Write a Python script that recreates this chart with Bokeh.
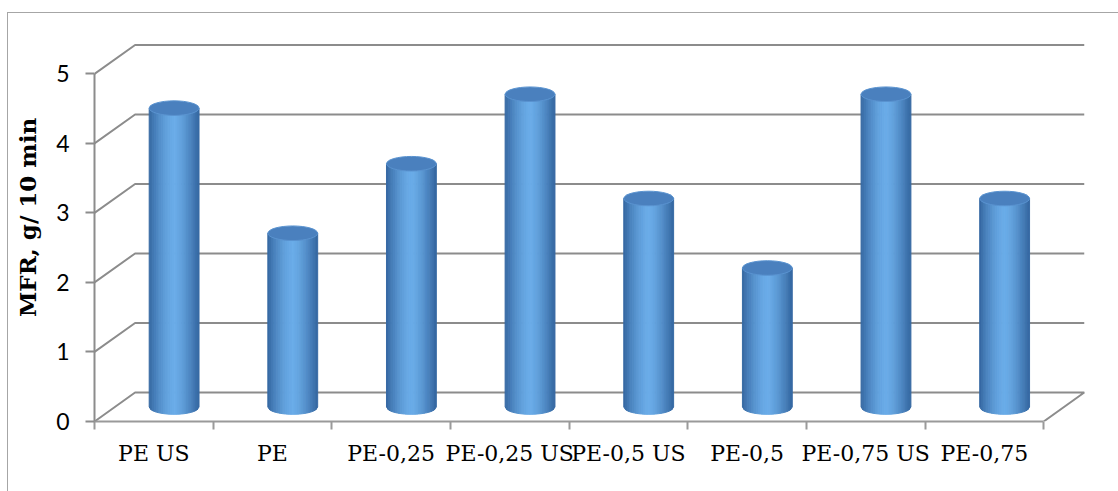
from bokeh.plotting import figure
from bokeh.models import Range1d, FixedTicker
from bokeh.embed import file_html
from bokeh.resources import INLINE
import numpy as np

# --- data -------------------------------------------------------------
categories = ["PE US", "PE", "PE-0,25", "PE-0,25 US", "PE-0,5 US", "PE-0,5", "PE-0,75 US", "PE-0,75"]
mfr = [4.3, 2.5, 3.5, 4.5, 3.0, 2.0, 4.5, 3.0]
y_ticks = [0, 1, 2, 3, 4, 5]

# --- pseudo-3D geometry (in data units) -------------------------------
DEPTH_X = 0.342      # horizontal shift of the back wall (categories)
DEPTH_Y = 0.417      # vertical shift of the back wall (MFR units)
BAR_W = 0.42         # cylinder diameter (categories)
CAP_H = 0.21         # height of the elliptic caps (MFR units)
N_STRIPS = 28

n = len(categories)
GRID = "#8c8c8c"

p = figure(width=1111, height=479,
           x_range=Range1d(0, 8.42), y_range=Range1d(0, 5.87),
           output_backend="svg", toolbar_location=None,
           min_border_left=86, min_border_right=26,
           min_border_top=0, min_border_bottom=71)
p.margin = (12, 0, 0, 7)
p.styles = {"border-left": "1px solid #a6a6a6", "border-top": "1px solid #a6a6a6"}
p.outline_line_color = None
p.xgrid.visible = False
p.ygrid.visible = False
p.background_fill_color = "white"

# back-wall gridlines with their diagonal run-out to the front axis
gx, gy = [], []
for t in y_ticks:
    if t == 0:
        gx.append([0, DEPTH_X, n + DEPTH_X, n])
        gy.append([0, DEPTH_Y, DEPTH_Y, 0])
    else:
        gx.append([0, DEPTH_X, n + DEPTH_X])
        gy.append([t, t + DEPTH_Y, t + DEPTH_Y])
p.multi_line(gx, gy, line_color=GRID, line_width=2)

# shaded cylinders
dark = np.array([0x34, 0x66, 0xa0], float)
light = np.array([0x6a, 0xac, 0xe8], float)


def shade(t):
    peak = 0.52
    if t < peak:
        f = 1 - ((peak - t) / peak) ** 1.6
    else:
        f = 1 - ((t - peak) / (1 - peak)) ** 1.4
    c = dark + (light - dark) * max(0.0, min(1.0, f))
    return "#%02x%02x%02x" % tuple(int(round(v)) for v in c)


base = DEPTH_Y / 2
xs, ys, cols = [], [], []
for i, v in enumerate(mfr):
    cx = i + 0.5 + DEPTH_X / 2
    top = v + base
    edges = np.linspace(-BAR_W / 2, BAR_W / 2, N_STRIPS + 1)
    for k in range(N_STRIPS):
        a, b = edges[k], edges[k + 1]
        ua, ub = 2 * a / BAR_W, 2 * b / BAR_W
        ya = base - CAP_H / 2 * np.sqrt(max(0.0, 1 - ua * ua))
        yb = base - CAP_H / 2 * np.sqrt(max(0.0, 1 - ub * ub))
        xs.append([cx + a, cx + b, cx + b, cx + a])
        ys.append([top, top, yb, ya])
        cols.append(shade((k + 0.5) / N_STRIPS))
p.patches(xs, ys, fill_color=cols, line_color=cols, line_width=1)

centers = [i + 0.5 + DEPTH_X / 2 for i in range(n)]
tops = [v + base for v in mfr]
p.ellipse(centers, tops, width=BAR_W, height=CAP_H,
          fill_color="#4a80be", line_color="#5a93d0", line_width=1)

# front category axis: boundaries as ticks, names between them
xa = p.xaxis[0]
xa.ticker = FixedTicker(ticks=[i + 0.5 for i in range(n)],
                        minor_ticks=list(range(n + 1)))
xa.major_label_overrides = {i + 0.5: c for i, c in enumerate(categories)}
xa.bounds = (0, n)
xa.axis_line_color = "#9a9a9a"
xa.axis_line_width = 2
xa.major_tick_out = 0
xa.major_tick_in = 0
xa.minor_tick_out = 8
xa.minor_tick_in = 0
xa.minor_tick_line_color = "#9a9a9a"
xa.minor_tick_line_width = 2
xa.major_label_standoff = 11
xa.major_label_text_font = "DejaVu Serif"
xa.major_label_text_font_size = "22px"
xa.major_label_text_color = "black"

ya = p.yaxis[0]
ya.ticker = FixedTicker(ticks=y_ticks)
ya.bounds = (0, 5)
ya.axis_line_color = GRID
ya.axis_line_width = 2
ya.major_tick_out = 9
ya.major_tick_in = 0
ya.major_tick_line_color = GRID
ya.major_tick_line_width = 2
ya.minor_tick_out = 0
ya.minor_tick_in = 0
ya.major_label_standoff = 16
ya.major_label_text_font = "Lato"
ya.major_label_text_font_size = "23px"
ya.major_label_text_color = "black"
ya.axis_label = "MFR, g/ 10 min"
ya.axis_label_text_font = "DejaVu Serif"
ya.axis_label_text_font_style = "bold"
ya.axis_label_text_font_size = "23px"
ya.axis_label_text_color = "black"
ya.axis_label_standoff = 12

open("out.html", "w").write(file_html(p, INLINE))
